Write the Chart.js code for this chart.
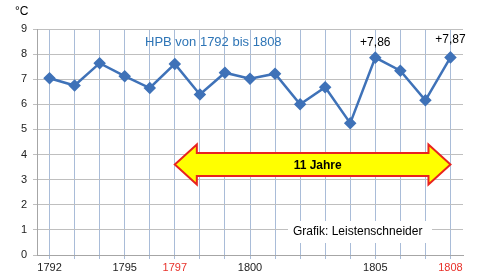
<!DOCTYPE html>
<html>
<head>
<meta charset="utf-8">
<script src="https://cdn.jsdelivr.net/npm/chart.js@4"></script>
<style>
  html, body { margin: 0; padding: 0; background: #fff; }
  #wrap { width: 481px; height: 280px; }
</style>
</head>
<body>
<div id="wrap"><canvas id="hpb"></canvas></div>
<script>
const years = [1792, 1793, 1794, 1795, 1796, 1797, 1798, 1799, 1800, 1801, 1802, 1803, 1804, 1805, 1806, 1807, 1808];
const temps = [7.04, 6.75, 7.64, 7.12, 6.65, 7.61, 6.39, 7.26, 7.02, 7.22, 6.0, 6.68, 5.25, 7.86, 7.34, 6.16, 7.87];
const shownYears = [1792, 1795, 1797, 1800, 1805, 1808];
const redYears = [1797, 1808];
const peakYears = [1805, 1808];
const peakTexts = ["+7,86", "+7,87"];
const arrowSpan = [1797, 1808];
const arrowLevel = 3.6;

const FONT = "'Liberation Sans', Arial, sans-serif";
const peakLift = [15, 18];

const extras = {
    id: "extras",
    afterDatasetsDraw(chart) {
        const { ctx, scales: { x, y } } = chart;
        ctx.save();

        // title inside the plot
        ctx.font = `13px ${FONT}`;
        ctx.fillStyle = "#2e75b6";
        ctx.textBaseline = "middle";
        ctx.textAlign = "left";
        ctx.fillText("HPB von 1792 bis 1808", 145, 42);

        // value labels on the peaks
        ctx.font = `12px ${FONT}`;
        ctx.fillStyle = "#000";
        ctx.textAlign = "center";
        peakYears.forEach((yr, k) => {
            const i = years.indexOf(yr);
            ctx.fillText(peakTexts[k], x.getPixelForValue(i), y.getPixelForValue(temps[i]) - peakLift[k]);
        });

        // yellow double arrow
        const x0 = x.getPixelForValue(years.indexOf(arrowSpan[0]));
        const x1 = x.getPixelForValue(years.indexOf(arrowSpan[1]));
        const cy = y.getPixelForValue(arrowLevel);
        const head = 22, hh = 20, sh = 11.5;
        ctx.beginPath();
        ctx.moveTo(x0, cy);
        ctx.lineTo(x0 + head, cy - hh);
        ctx.lineTo(x0 + head, cy - sh);
        ctx.lineTo(x1 - head, cy - sh);
        ctx.lineTo(x1 - head, cy - hh);
        ctx.lineTo(x1, cy);
        ctx.lineTo(x1 - head, cy + hh);
        ctx.lineTo(x1 - head, cy + sh);
        ctx.lineTo(x0 + head, cy + sh);
        ctx.lineTo(x0 + head, cy + hh);
        ctx.closePath();
        ctx.fillStyle = "#ffff00";
        ctx.fill();
        ctx.lineWidth = 2;
        ctx.strokeStyle = "#e8231f";
        ctx.lineJoin = "miter";
        ctx.stroke();
        ctx.font = `bold 12px ${FONT}`;
        ctx.fillStyle = "#000";
        ctx.fillText("11 Jahre", (x0 + x1) / 2 + 5, cy + 1);

        // credit box
        ctx.fillStyle = "#fff";
        ctx.fillRect(288, 221, 144, 22);
        ctx.font = `12px ${FONT}`;
        ctx.fillStyle = "#000";
        ctx.textAlign = "left";
        ctx.fillText("Grafik: Leistenschneider", 293, 232);

        // unit
        ctx.fillText("°C", 15, 12);
        ctx.restore();
    }
};

new Chart(document.getElementById("hpb"), {
    type: "line",
    data: {
        labels: years,
        datasets: [{
            data: temps,
            borderColor: "#3f72b8",
            backgroundColor: "#3f72b8",
            borderWidth: 2.5,
            pointStyle: "rectRot",
            pointRadius: 4.5,
            pointHoverRadius: 4.5,
            tension: 0,
        }],
    },
    options: {
        responsive: true,
        maintainAspectRatio: false,
        animation: false,
        events: [],
        layout: { padding: { top: 29, right: 18, left: 0, bottom: 0 } },
        plugins: { legend: { display: false }, tooltip: { enabled: false } },
        scales: {
            x: {
                offset: true,
                grid: { offset: false, color: "#a9bcd8", lineWidth: 1, tickLength: 4 },
                border: { color: "#a6a6a6" },
                ticks: {
                    autoSkip: false,
                    maxRotation: 0,
                    padding: 2,
                    font: { family: FONT, size: 11 },
                    color: (c) => redYears.includes(years[c.index]) ? "#e8312a" : "#222",
                    callback: (v, i) => shownYears.includes(years[i]) ? String(years[i]) : "",
                },
                afterFit: (s) => { s.height = 25; },
            },
            y: {
                min: 0,
                max: 9,
                grid: { color: "#bfbfbf", lineWidth: 1, tickLength: 4 },
                border: { color: "#a6a6a6" },
                ticks: {
                    stepSize: 1,
                    padding: 6,
                    font: { family: FONT, size: 11 },
                    color: "#222",
                },
                afterFit: (s) => { s.width = 37; },
            },
        },
    },
    plugins: [extras],
});
</script>
</body>
</html>
